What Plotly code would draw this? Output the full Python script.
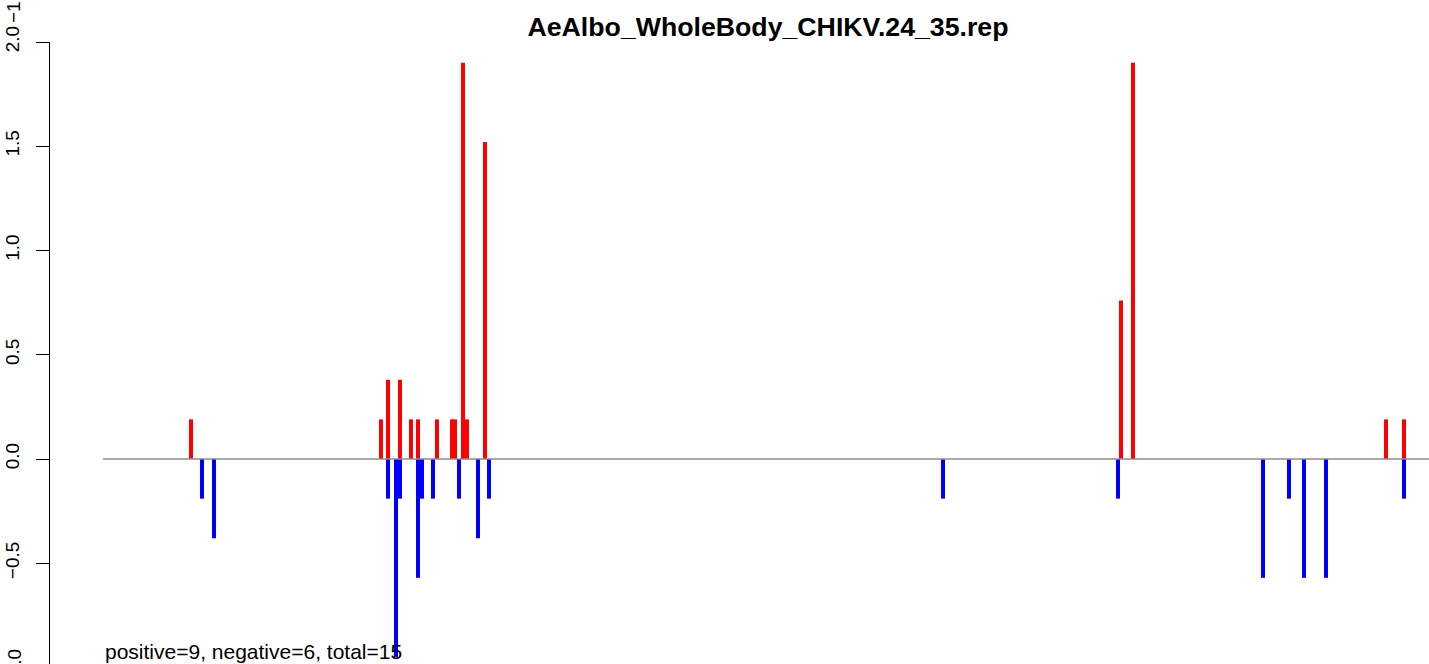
import plotly.graph_objects as go

# ---- data (positions along the sequence) ----
pos_positions = [88, 278, 285, 297, 308, 315, 334, 349, 352, 360, 364, 382, 1018, 1030, 1283, 1301]
pos_values = [0.19, 0.19, 0.38, 0.38, 0.19, 0.19, 0.19, 0.19, 0.19, 1.90, 0.19, 1.52, 0.76, 1.90, 0.19, 0.19]

neg_positions = [99, 111, 285, 293, 297, 315, 319, 330, 356, 375, 386, 840, 1015, 1160, 1186, 1201, 1223, 1301]
neg_values = [-0.19, -0.38, -0.19, -0.95, -0.19, -0.57, -0.19, -0.19, -0.19, -0.38, -0.19, -0.19, -0.19,
              -0.57, -0.19, -0.57, -0.57, -0.19]

y_tick_vals = [-0.5, 0.0, 0.5, 1.0, 1.5, 2.0]
y_tick_text = ["\u22120.5", "0.0", "0.5", "1.0", "1.5", "2.0"]

title_text = "AeAlbo_WholeBody_CHIKV.24_35.rep"
stats_text = "positive=9, negative=6, total=15"

# ---- layout geometry ----
W, H = 1429, 664
ML, MR, MT, MB = 50, 0, 42, 0
PH = H - MT - MB
PW = W - ML - MR
FONT = "Liberation Sans, Arial, sans-serif"

fig = go.Figure()
fig.add_trace(go.Bar(x=pos_positions, y=pos_values, width=4,
                     marker=dict(color="#FF0000", line=dict(width=0)), hoverinfo="skip"))
fig.add_trace(go.Bar(x=neg_positions, y=neg_values, width=4,
                     marker=dict(color="#0000FF", line=dict(width=0)), hoverinfo="skip"))

x_min, x_max = -53, -53 + PW
y_top = 2.0
y_bottom = -(H - 459) / ((459 - 42) / 2.0)

fig.add_shape(type="line", xref="x", yref="y", x0=0, x1=x_max, y0=0, y1=0,
              line=dict(color="#8c8c8c", width=1.6), layer="above")

def py(pix):
    return (H - MB - pix) / PH

def px(pix):
    return (pix - ML) / PW

annotations = [
    dict(text=stats_text, xref="x", x=0, xanchor="left", yref="paper", y=py(651), yanchor="middle",
         showarrow=False, font=dict(family=FONT, size=21, color="black")),
    dict(text="\u22121.0", xref="paper", x=px(14), xanchor="center", yref="paper", y=py(667.5),
         yanchor="middle", textangle=-90, showarrow=False, font=dict(family=FONT, size=19, color="black")),
    dict(text="\u22121.0", xref="paper", x=px(14), xanchor="center", yref="paper", y=py(4),
         yanchor="middle", textangle=-90, showarrow=False, font=dict(family=FONT, size=19, color="black")),
]

fig.update_layout(
    template="none",
    width=W, height=H,
    margin=dict(l=ML, r=MR, t=MT, b=MB, pad=0, autoexpand=False),
    paper_bgcolor="white", plot_bgcolor="white",
    barmode="overlay", showlegend=False,
    title=dict(text=title_text, xref="container", x=768 / W, xanchor="center",
               yref="container", y=1 - 27 / H, yanchor="middle", automargin=False,
               font=dict(family=FONT, size=26.7, color="black", weight="bold")),
    xaxis=dict(range=[x_min, x_max], visible=False, showgrid=False, zeroline=False, automargin=False),
    yaxis=dict(range=[y_bottom, y_top], tickvals=y_tick_vals, ticktext=y_tick_text,
               ticks="outside", ticklen=13, tickwidth=1, tickcolor="black",
               showline=True, linecolor="black", linewidth=1, automargin=False,
               showgrid=False, zeroline=False, tickangle=-90, ticklabelstandoff=9,
               tickfont=dict(family=FONT, size=19, color="black")),
    annotations=annotations,
)

fig.write_html("out.html", config={"displayModeBar": False},
               post_script="document.body.style.margin='0';document.body.style.overflow='hidden';")
